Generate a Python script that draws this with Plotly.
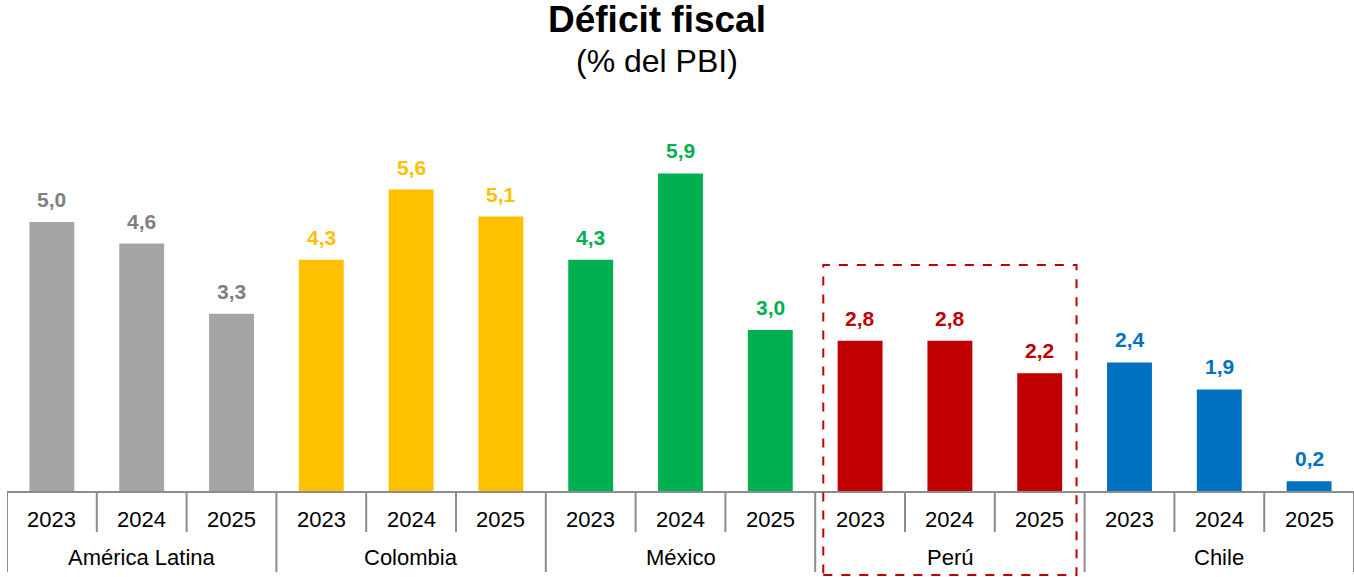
import plotly.graph_objects as go

groups = ["América Latina", "Colombia", "México", "Perú", "Chile"]
years = ["2023", "2024", "2025"]
values = {
    "América Latina": [5.0, 4.6, 3.3],
    "Colombia": [4.3, 5.6, 5.1],
    "México": [4.3, 5.9, 3.0],
    "Perú": [2.8, 2.8, 2.2],
    "Chile": [2.4, 1.9, 0.2],
}
bar_colors = ["#A5A5A5", "#FFC000", "#00B050", "#C00000", "#0070C0"]
label_colors = ["#7F7F7F", "#FFC000", "#00B050", "#C00000", "#0070C0"]
highlight_group = "Perú"
title_text = "Déficit fiscal"
subtitle_text = "(% del PBI)"

FONT = "Liberation Sans, Arial, sans-serif"
AXIS_COLOR = "#8C8C8C"

fig = go.Figure()
n_years = len(years)
annotations = []
shapes = []

for gi, g in enumerate(groups):
    xs = [gi * n_years + k for k in range(n_years)]
    fig.add_trace(go.Bar(
        x=xs, y=values[g], marker=dict(color=bar_colors[gi], line=dict(width=0)),
        width=0.5, showlegend=False, hoverinfo="skip",
    ))
    for x, v in zip(xs, values[g]):
        annotations.append(dict(
            x=x, y=v, xref="x", yref="y", yanchor="bottom", yshift=9,
            text=f"{v:.1f}".replace(".", ","), showarrow=False,
            font=dict(family=FONT, size=21, color=label_colors[gi], weight="bold"),
        ))
    for k, x in enumerate(xs):
        annotations.append(dict(
            x=x, y=-0.0693, xref="x", yref="paper", yanchor="middle",
            text=years[k], showarrow=False,
            font=dict(family=FONT, size=22, color="#000000"),
        ))
    annotations.append(dict(
        x=gi * n_years + (n_years - 1) / 2, y=-0.168, xref="x", yref="paper",
        yanchor="middle", text=g, showarrow=False,
        font=dict(family=FONT, size=22, color="#000000"),
    ))

# title and subtitle
annotations.append(dict(
    x=0.4826, y=1.2066, xref="paper", yref="paper", xanchor="center",
    yanchor="middle", text=f"<b>{title_text}</b>", showarrow=False,
    font=dict(family=FONT, size=37, color="#000000"),
))
annotations.append(dict(
    x=0.4826, y=1.0995, xref="paper", yref="paper", xanchor="center",
    yanchor="middle", text=subtitle_text, showarrow=False,
    font=dict(family=FONT, size=32, color="#000000"),
))

total = len(groups) * n_years
shapes.append(dict(type="line", xref="x", yref="paper", x0=-0.5, x1=total - 0.5,
                   y0=0, y1=0, line=dict(color=AXIS_COLOR, width=2)))
for b in range(total + 1):
    is_group = b % n_years == 0
    shapes.append(dict(type="line", xref="x", yref="paper",
                       x0=b - 0.5, x1=b - 0.5, y0=0,
                       y1=-0.204 if is_group else -0.102,
                       line=dict(color=AXIS_COLOR, width=2)))

hi = groups.index(highlight_group)
shapes.append(dict(type="rect", xref="x", yref="paper",
                   x0=hi * n_years - 0.5 + 0.09, x1=hi * n_years + n_years - 0.5 - 0.09,
                   y0=-0.212, y1=0.579,
                   line=dict(color="#C00000", width=2, dash="dash"),
                   fillcolor="rgba(0,0,0,0)"))

fig.update_layout(
    width=1354, height=577,
    margin=dict(l=7, r=0, t=100, b=85),
    paper_bgcolor="white", plot_bgcolor="white",
    bargap=0.5,
    xaxis=dict(range=[-0.5, total - 0.5], showticklabels=False, showgrid=False,
               zeroline=False, showline=False, ticks=""),
    yaxis=dict(range=[0, 392 / 54], showticklabels=False, showgrid=False,
               zeroline=False, showline=False, ticks=""),
    annotations=annotations, shapes=shapes,
)

fig.write_html("out.html", config={"displayModeBar": False},
               post_script="document.body.style.margin='0';document.body.style.overflow='hidden';")
